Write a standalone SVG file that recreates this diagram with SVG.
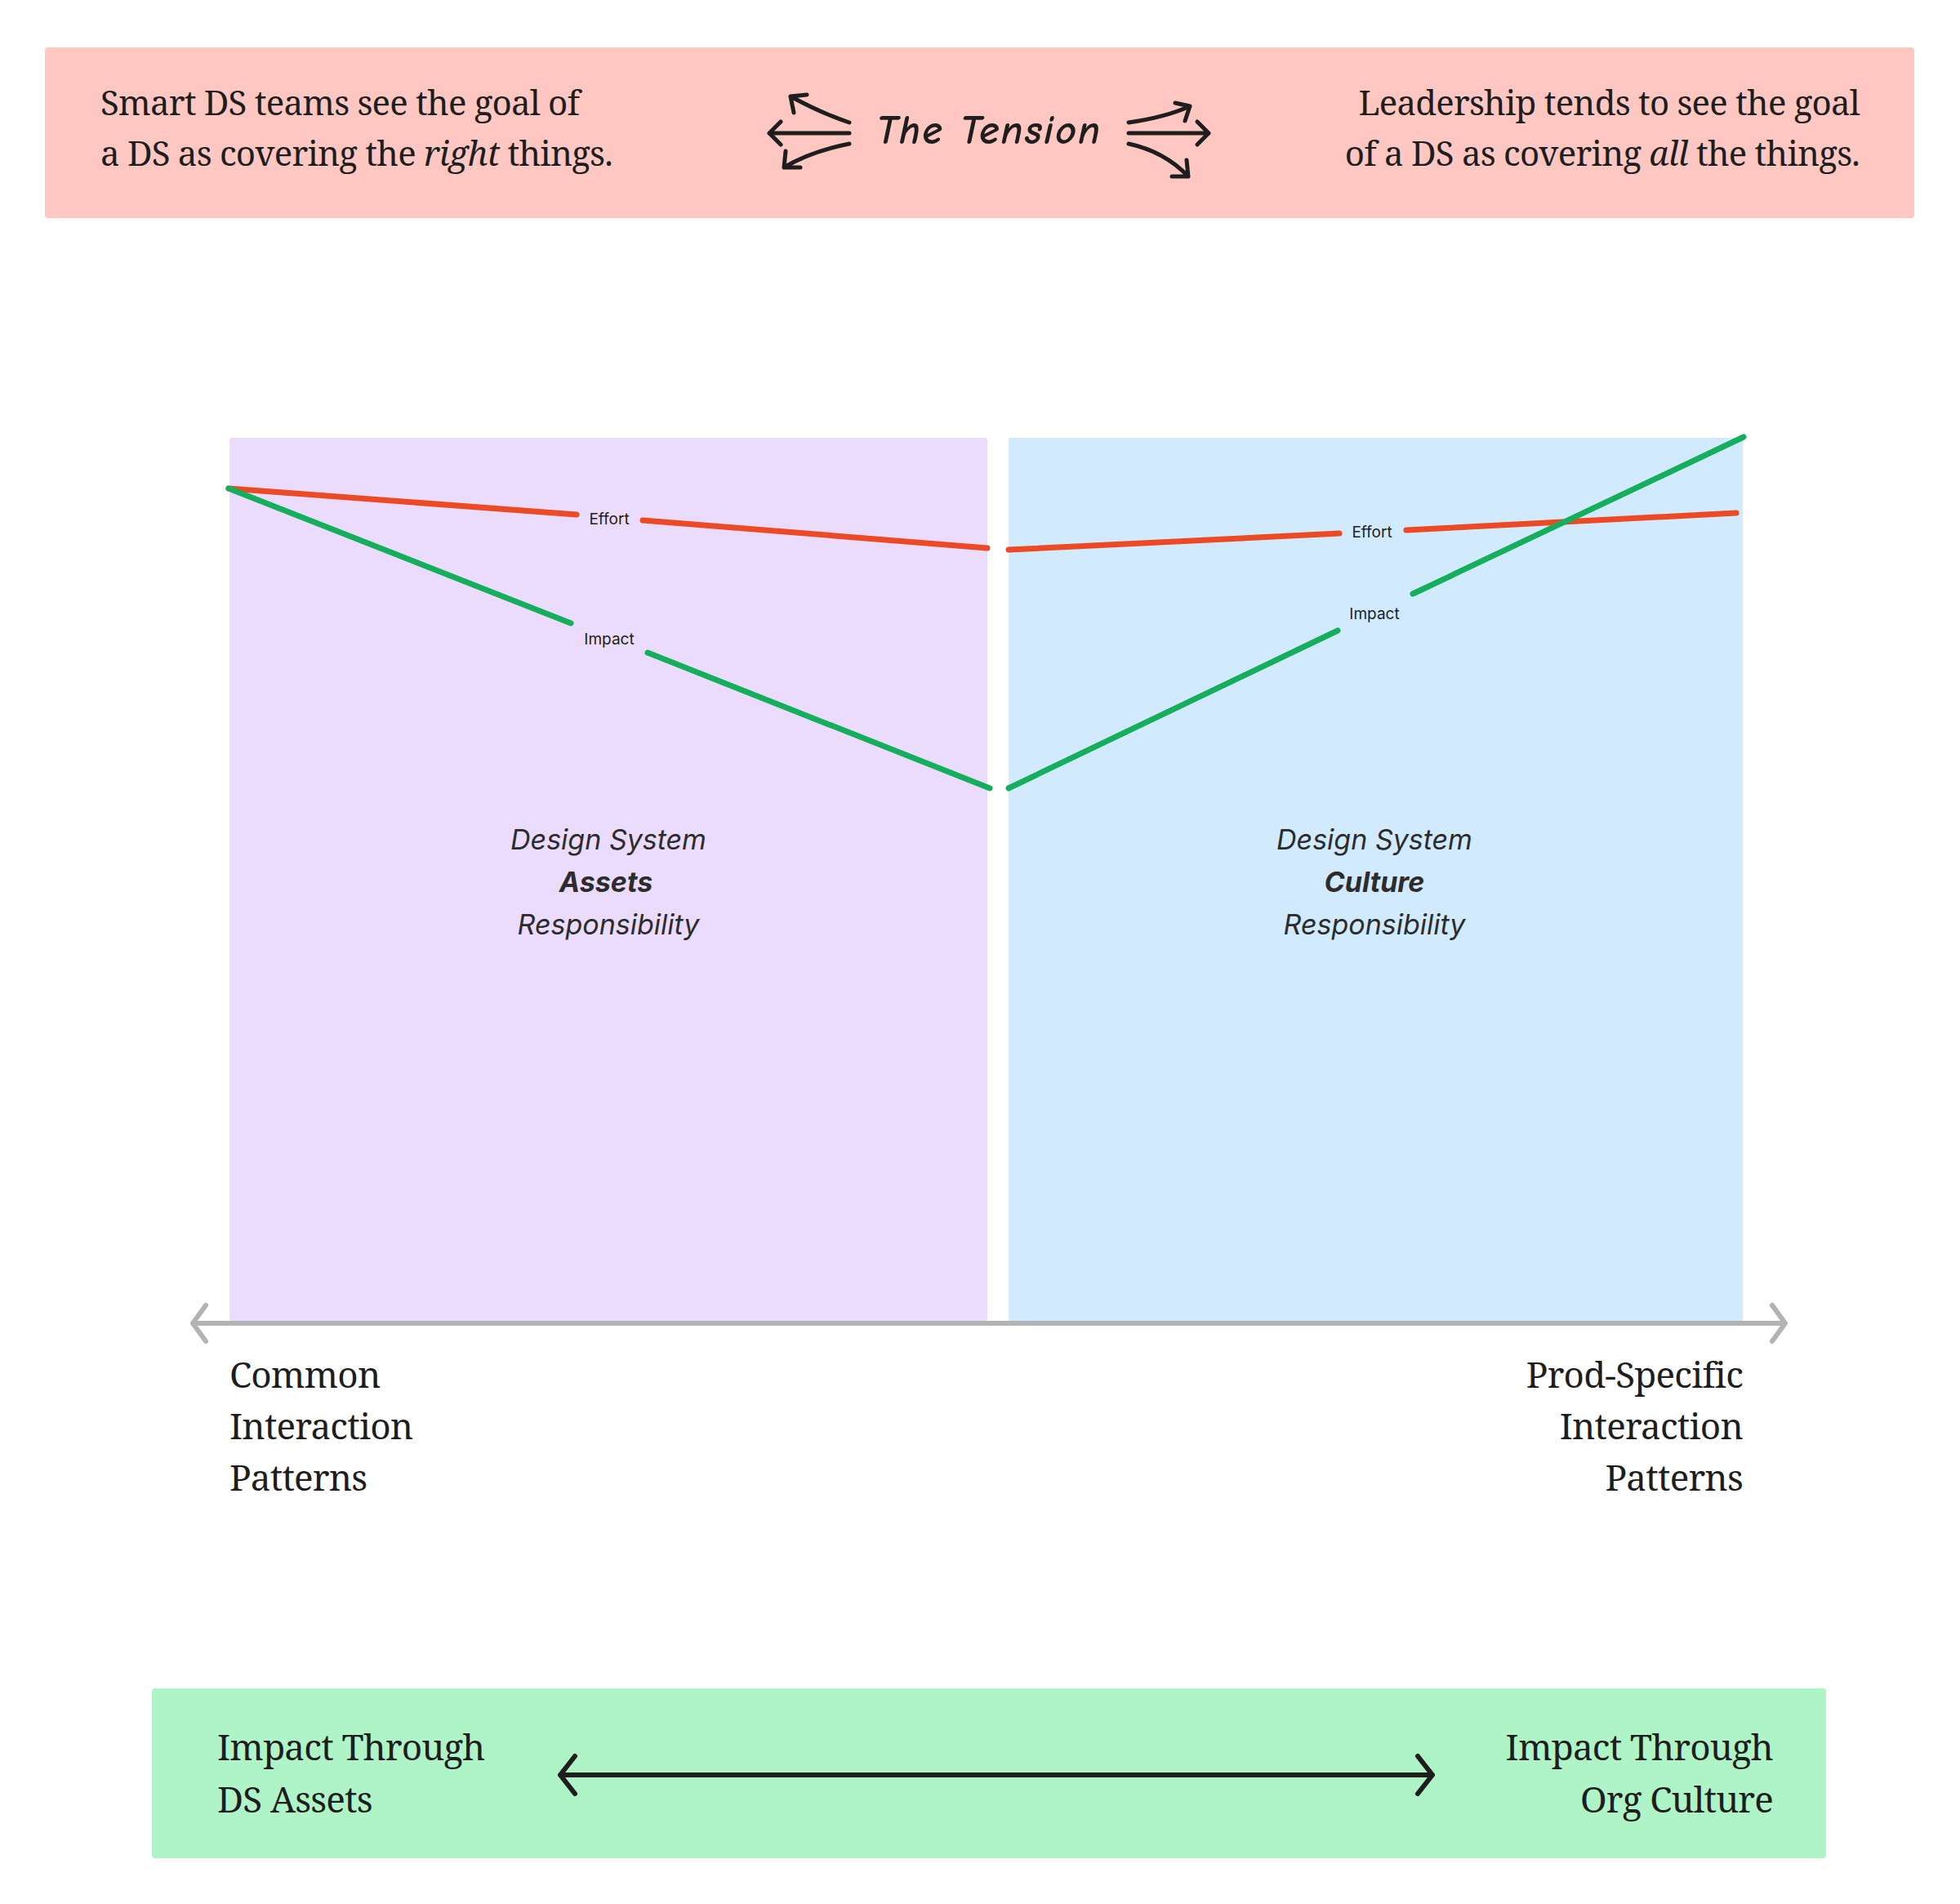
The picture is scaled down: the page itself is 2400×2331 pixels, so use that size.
<svg xmlns="http://www.w3.org/2000/svg" width="2400" height="2331" viewBox="0 0 2400 2331">
<style>
.serif{font-family:"Noto Serif","DejaVu Serif","Liberation Serif",serif;fill:#1e1e1e;letter-spacing:-0.8px}
.big{font-size:42px}
.ax{font-size:44px}
.lbl{font-family:Inter,"Liberation Sans",sans-serif;font-size:19px;fill:#1e1e1e}
.ds{font-family:Inter,"Liberation Sans",sans-serif;font-size:34px;fill:#2c2c2c;font-style:italic;text-anchor:middle}
.red{stroke:#ec4a24;stroke-width:7;stroke-linecap:round;fill:none}
.grn{stroke:#14ae5c;stroke-width:7;stroke-linecap:round;fill:none}
.blk{stroke:#1e1e1e;stroke-width:5;stroke-linecap:round;fill:none}
</style>
<rect width="2400" height="2331" fill="#fff"/>
<g id="header">
<rect x="55" y="58" width="2289" height="209" rx="4" fill="#ffc7c2"/>
<text class="serif big" x="123" y="141">Smart DS teams see the goal of</text>
<text class="serif big" x="123" y="203">a DS as covering the <tspan font-style="italic">right</tspan> things.</text>
<text class="serif big" x="2277" y="141" text-anchor="end">Leadership tends to see the goal</text>
<text class="serif big" x="2277" y="203" text-anchor="end">of a DS as covering <tspan font-style="italic">all</tspan> the things.</text>
<text x="1211" y="176" text-anchor="middle" font-family="'Comic Neue','DejaVu Sans',sans-serif" font-style="italic" font-weight="bold" font-size="50" fill="#1e1e1e" letter-spacing="2">The Tension</text>
<path class="blk" d="M1040 150 C1010 140 990 130 968 118 M968 118 l4 20 M968 118 l20 -2"/>
<path class="blk" d="M1040 163 L942 163 M942 163 l14 -14 M942 163 l14 14"/>
<path class="blk" d="M1040 176 C1010 182 985 190 960 205 M960 205 l2 -20 M960 205 l20 0"/>
<path class="blk" d="M1382 150 C1410 146 1435 140 1457 130 M1457 130 l-18 -4 M1457 130 l-6 18"/>
<path class="blk" d="M1382 163 L1480 163 M1480 163 l-14 -14 M1480 163 l-14 14"/>
<path class="blk" d="M1382 176 C1410 182 1435 195 1455 216 M1455 216 l-2 -20 M1455 216 l-20 0"/>
</g>
<g id="assets">
<rect x="281" y="536" width="928" height="1081" rx="3" fill="#ebdbfd"/>
<text class="ds" x="745" y="1040">Design System</text>
<text class="ds" x="742" y="1092" font-weight="bold">Assets</text>
<text class="ds" x="745" y="1144">Responsibility</text>
</g>
<g id="culture">
<rect x="1235" y="536" width="899" height="1081" fill="#d1eafe"/>
<text class="ds" x="1683" y="1040">Design System</text>
<text class="ds" x="1683" y="1092" font-weight="bold">Culture</text>
<text class="ds" x="1683" y="1144">Responsibility</text>
</g>
<g id="connectors">
<path class="red" d="M280 598 L706 630 M787 637 L1209 671"/>
<path class="red" d="M1235 673 L1640 653 M1722 649 L2126 628"/>
<path class="grn" d="M280 598 L699 763 M793 799 L1212 965"/>
<path class="grn" d="M1235 965 L1638 772 M1730 727 L2135 535"/>
<text class="lbl" x="746" y="642" text-anchor="middle">Effort</text>
<text class="lbl" x="1680" y="658" text-anchor="middle">Effort</text>
<text class="lbl" x="746" y="789" text-anchor="middle">Impact</text>
<text class="lbl" x="1683" y="758" text-anchor="middle">Impact</text>
<path d="M236 1620 L2186 1620" stroke="#b3b3b3" stroke-width="6" fill="none"/>
<path d="M252 1598 L236 1620 L252 1642 M2170 1598 L2186 1620 L2170 1642" stroke="#b3b3b3" stroke-width="6" fill="none" stroke-linecap="round" stroke-linejoin="round"/>
</g>
<g id="axis-labels">
<text class="serif ax" x="281" y="1699">Common</text>
<text class="serif ax" x="281" y="1762">Interaction</text>
<text class="serif ax" x="281" y="1825">Patterns</text>
<text class="serif ax" x="2134" y="1699" text-anchor="end">Prod-Specific</text>
<text class="serif ax" x="2134" y="1762" text-anchor="end">Interaction</text>
<text class="serif ax" x="2134" y="1825" text-anchor="end">Patterns</text>
</g>
<g id="footer">
<rect x="186" y="2067" width="2050" height="208" rx="4" fill="#aff4c6"/>
<text class="serif ax" x="266" y="2155">Impact Through</text>
<text class="serif ax" x="266" y="2219">DS Assets</text>
<text class="serif ax" x="2171" y="2155" text-anchor="end">Impact Through</text>
<text class="serif ax" x="2171" y="2219" text-anchor="end">Org Culture</text>
<path d="M686 2173 L1754 2173 M704 2150 L686 2173 L704 2196 M1736 2150 L1754 2173 L1736 2196" stroke="#1e1e1e" stroke-width="6" fill="none" stroke-linecap="round" stroke-linejoin="round"/>
</g>
</svg>
